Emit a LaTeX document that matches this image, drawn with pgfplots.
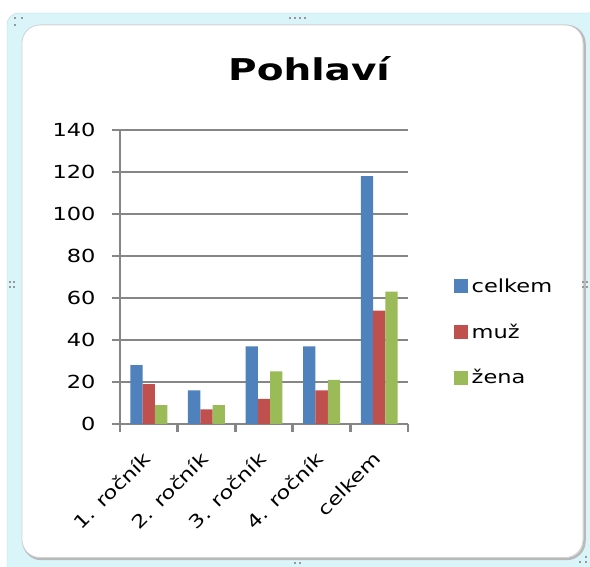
\documentclass[border=0pt]{standalone}
\usepackage{fontspec}
\setmainfont{DejaVu Sans}[FakeStretch=1.25]
\newfontfamily\titlefont{DejaVu Sans}[FakeStretch=1.3]
\usepackage{pgfplots}
\pgfplotsset{compat=1.18}
\definecolor{cblue}{HTML}{4F81BD}
\definecolor{cred}{HTML}{C0504D}
\definecolor{cgreen}{HTML}{9BBB59}
\definecolor{cgrid}{HTML}{868686}
\definecolor{ccyan}{HTML}{DAF5F9}
\definecolor{ccyanb}{HTML}{B8D8DD}
\pgfplotstableread{
x celkem muz zena
0 28 19 9
1 16 7 9
2 37 12 25
3 37 16 21
4 118 54 63
}\datatab
\begin{document}
\begin{tikzpicture}[x=1bp,y=1bp]
\path[use as bounding box] (0,0) rectangle (590,567);
\draw[ccyanb, fill=ccyan, rounded corners=12] (7,-12) rectangle (602,554);
\draw[gray!55, line width=2.5bp, rounded corners=18] (23.5,8) rectangle (584.5,541);
\draw[gray!35, fill=white, line width=0.8bp, rounded corners=18] (22,9.5) rectangle (583,542);
% handles
\foreach \p in {(15,549),(22,549),(15,542),(290,549),(295,549),(300,549),(305,549),(10,285),(10,280),(14,285),(14,280),(583,285),(583,280),(587,285),(587,280),(295,4),(300,4),(580,5),(586,5),(586,10)}
  \fill[gray!80] \p ++(-1.3,-1.3) rectangle ++(2.6,2.6);
\node[anchor=base, font=\fontsize{30bp}{35bp}\titlefont\bfseries] at (309,486) {Pohlaví};
\begin{axis}[
  at={(120bp,143bp)}, anchor=south west,
  scale only axis, width=288bp, height=294bp,
  ybar=0pt, bar width=12.3bp,
  xmin=-0.5, xmax=4.5, ymin=0, ymax=140,
  ytick={0,20,...,140},
  xtick={-0.5,0.5,...,4.5},
  xticklabels={},
  extra x ticks={0,1,2,3,4},
  extra x tick labels={1. ročník,2. ročník,3. ročník,4. ročník,celkem},
  extra x tick style={major tick length=0pt, grid=none,
    xticklabel style={anchor=east, rotate=45, xshift=-20bp, yshift=-21bp}},
  axis x line*=bottom, axis y line*=left,
  axis line style={cgrid, line width=2.8bp},
  ymajorgrids, major grid style={cgrid, line width=2.8bp},
  tick align=outside, major tick length=8bp,
  tick style={cgrid, line width=2.8bp},
  every tick label/.append style={font=\fontsize{18bp}{21bp}\selectfont, text=black},
  /pgf/number format/assume math mode=true,
  yticklabel style={xshift=-13bp},
  legend style={draw=none, fill=none, at={(axis description cs:1.158,0.313)}, anchor=west,
    font=\fontsize{18bp}{21bp}\selectfont, row sep=22bp, inner sep=0pt,
    nodes={inner sep=4bp}},
  legend cell align=left,
  legend image code/.code={\fill[#1] (0bp,-7bp) rectangle (14bp,7bp);},
  clip=false,
]
\addplot[fill=cblue, draw=none] table[x=x, y=celkem] {\datatab};
\addplot[fill=cred, draw=none] table[x=x, y=muz] {\datatab};
\addplot[fill=cgreen, draw=none] table[x=x, y=zena] {\datatab};
\legend{celkem, muž, žena}
\end{axis}
\end{tikzpicture}
\end{document}
